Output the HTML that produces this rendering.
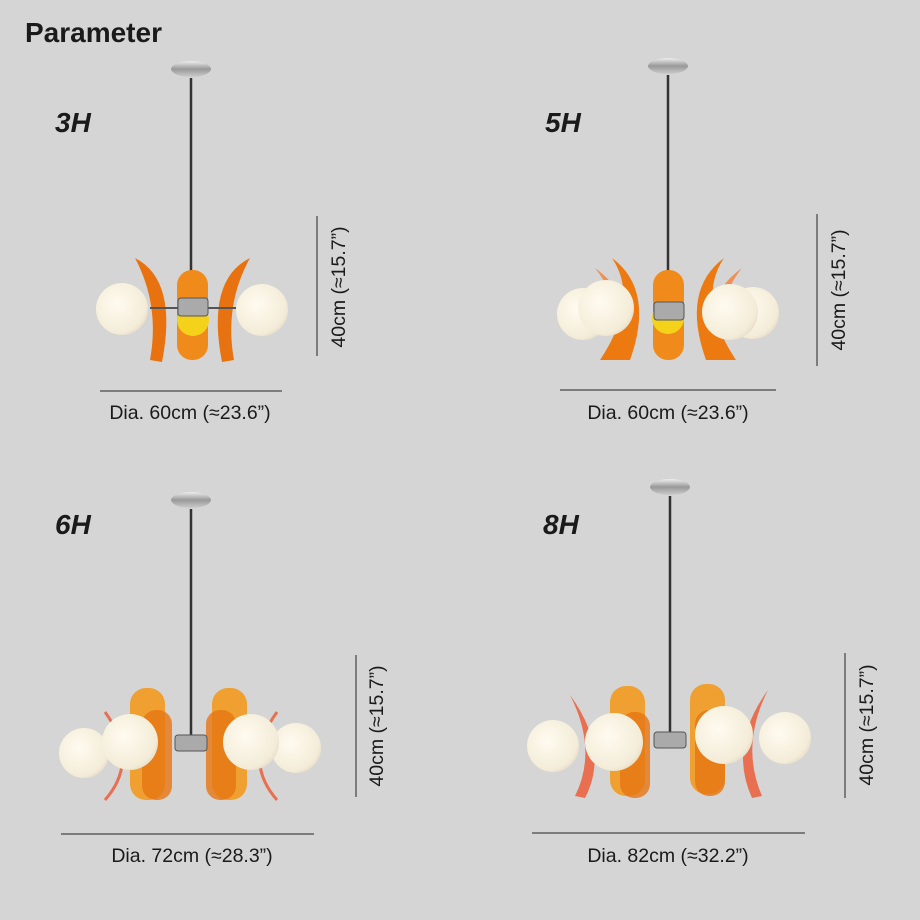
<!DOCTYPE html>
<html><head><meta charset="utf-8"><style>
body{margin:0;background:#d5d5d5;}
svg{display:block}
text{font-family:"Liberation Sans",sans-serif;fill:#1a1a1a}
</style></head><body>
<svg width="920" height="920" viewBox="0 0 920 920" xmlns="http://www.w3.org/2000/svg">
<defs>
<radialGradient id="g" cx="0.4" cy="0.4" r="0.7"><stop offset="0" stop-color="#fffbf0"/><stop offset="0.8" stop-color="#f3ecd8"/><stop offset="1" stop-color="#e0d6c0"/></radialGradient>
<linearGradient id="c" x1="0" y1="0" x2="0" y2="1"><stop offset="0" stop-color="#eee"/><stop offset="0.5" stop-color="#999"/><stop offset="1" stop-color="#ccc"/></linearGradient>
</defs>
<rect width="920" height="920" fill="#d5d5d5"/>
<text x="25" y="42" font-size="28" font-weight="bold">Parameter</text>

<!-- 3H -->
<text x="55" y="132" font-size="28" font-weight="bold" font-style="italic">3H</text>
<ellipse cx="191" cy="69" rx="20" ry="8" fill="url(#c)"/>
<line x1="191" y1="78" x2="191" y2="300" stroke="#333" stroke-width="2.5"/>
<rect x="177" y="270" width="31" height="90" rx="15" fill="#f08a1a"/>
<circle cx="193" cy="320" r="16" fill="#f5d21a"/>
<path d="M135,258 Q178,280 162,362 L150,360 Q160,305 135,258Z" fill="#e8720f"/>
<path d="M250,258 Q206,280 222,362 L234,360 Q224,305 250,258Z" fill="#e8720f"/>
<circle cx="122" cy="309" r="26" fill="url(#g)"/>
<circle cx="262" cy="310" r="26" fill="url(#g)"/>
<line x1="150" y1="308" x2="236" y2="308" stroke="#555" stroke-width="2"/>
<rect x="178" y="298" width="30" height="18" rx="3" fill="#aaa" stroke="#555"/>
<line x1="100" y1="391" x2="282" y2="391" stroke="#222"/>
<text x="190" y="419" font-size="19.5" text-anchor="middle">Dia. 60cm (≈23.6”)</text>
<line x1="317" y1="216" x2="317" y2="356" stroke="#222"/>
<text transform="translate(345,287) rotate(-90)" font-size="19.5" text-anchor="middle">40cm (≈15.7”)</text>

<!-- 5H -->
<text x="545" y="132" font-size="28" font-weight="bold" font-style="italic">5H</text>
<ellipse cx="668" cy="66" rx="20" ry="8" fill="url(#c)"/>
<line x1="668" y1="75" x2="668" y2="300" stroke="#333" stroke-width="2.5"/>
<rect x="653" y="270" width="31" height="90" rx="15" fill="#f08a1a"/>
<circle cx="668" cy="318" r="16" fill="#f5d21a"/>
<path d="M595,268 Q640,300 620,360 L610,356 Q625,305 595,268Z" fill="#f0803a" opacity="0.8"/>
<path d="M742,268 Q697,300 717,360 L727,356 Q712,305 742,268Z" fill="#f0803a" opacity="0.8"/>
<path d="M612,258 Q655,290 630,360 L600,360 Q640,300 612,258Z" fill="#ec7a10"/>
<path d="M724,258 Q681,290 706,360 L736,360 Q696,300 724,258Z" fill="#ec7a10"/>
<circle cx="583" cy="314" r="26" fill="url(#g)"/>
<circle cx="753" cy="313" r="26" fill="url(#g)"/>
<circle cx="606" cy="308" r="28" fill="url(#g)"/>
<circle cx="730" cy="312" r="28" fill="url(#g)"/>
<rect x="654" y="302" width="30" height="18" rx="3" fill="#aaa" stroke="#555"/>
<line x1="560" y1="390" x2="776" y2="390" stroke="#222"/>
<text x="668" y="419" font-size="19.5" text-anchor="middle">Dia. 60cm (≈23.6”)</text>
<line x1="817" y1="214" x2="817" y2="366" stroke="#222"/>
<text transform="translate(845,290) rotate(-90)" font-size="19.5" text-anchor="middle">40cm (≈15.7”)</text>

<!-- 6H -->
<text x="55" y="534" font-size="28" font-weight="bold" font-style="italic">6H</text>
<ellipse cx="191" cy="500" rx="20" ry="8" fill="url(#c)"/>
<line x1="191" y1="509" x2="191" y2="735" stroke="#333" stroke-width="2.5"/>
<path d="M105,712 Q140,760 105,800" stroke="#e87050" stroke-width="3" fill="none"/>
<path d="M277,712 Q242,760 277,800" stroke="#e87050" stroke-width="3" fill="none"/>
<rect x="130" y="688" width="35" height="112" rx="16" fill="#f29a1e" opacity="0.9"/>
<rect x="212" y="688" width="35" height="112" rx="16" fill="#f29a1e" opacity="0.9"/>
<rect x="142" y="710" width="30" height="90" rx="14" fill="#e67512" opacity="0.8"/>
<rect x="206" y="710" width="30" height="90" rx="14" fill="#e67512" opacity="0.8"/>
<circle cx="84" cy="753" r="25" fill="url(#g)"/>
<circle cx="296" cy="748" r="25" fill="url(#g)"/>
<circle cx="130" cy="742" r="28" fill="url(#g)"/>
<circle cx="251" cy="742" r="28" fill="url(#g)"/>
<rect x="175" y="735" width="32" height="16" rx="3" fill="#aaa" stroke="#555"/>
<line x1="61" y1="834" x2="314" y2="834" stroke="#222"/>
<text x="192" y="862" font-size="19.5" text-anchor="middle">Dia. 72cm (≈28.3”)</text>
<line x1="356" y1="655" x2="356" y2="797" stroke="#222"/>
<text transform="translate(383,726) rotate(-90)" font-size="19.5" text-anchor="middle">40cm (≈15.7”)</text>

<!-- 8H -->
<text x="543" y="534" font-size="28" font-weight="bold" font-style="italic">8H</text>
<ellipse cx="670" cy="487" rx="20" ry="8" fill="url(#c)"/>
<line x1="670" y1="496" x2="670" y2="732" stroke="#333" stroke-width="2.5"/>
<path d="M570,695 Q610,750 585,798 L575,796 Q598,750 570,695Z" fill="#e87050"/>
<path d="M768,690 Q728,745 752,798 L762,796 Q740,745 768,690Z" fill="#e87050"/>
<rect x="610" y="686" width="35" height="110" rx="16" fill="#f29a1e" opacity="0.9"/>
<rect x="690" y="684" width="35" height="110" rx="16" fill="#f29a1e" opacity="0.9"/>
<rect x="620" y="712" width="30" height="86" rx="14" fill="#e67512" opacity="0.8"/>
<rect x="695" y="710" width="30" height="86" rx="14" fill="#e67512" opacity="0.8"/>
<circle cx="553" cy="746" r="26" fill="url(#g)"/>
<circle cx="785" cy="738" r="26" fill="url(#g)"/>
<circle cx="614" cy="742" r="29" fill="url(#g)"/>
<circle cx="724" cy="735" r="29" fill="url(#g)"/>
<rect x="654" y="732" width="32" height="16" rx="3" fill="#aaa" stroke="#555"/>
<line x1="532" y1="833" x2="805" y2="833" stroke="#222"/>
<text x="668" y="862" font-size="19.5" text-anchor="middle">Dia. 82cm (≈32.2”)</text>
<line x1="845" y1="653" x2="845" y2="798" stroke="#222"/>
<text transform="translate(873,725) rotate(-90)" font-size="19.5" text-anchor="middle">40cm (≈15.7”)</text>
</svg>
</body></html>
